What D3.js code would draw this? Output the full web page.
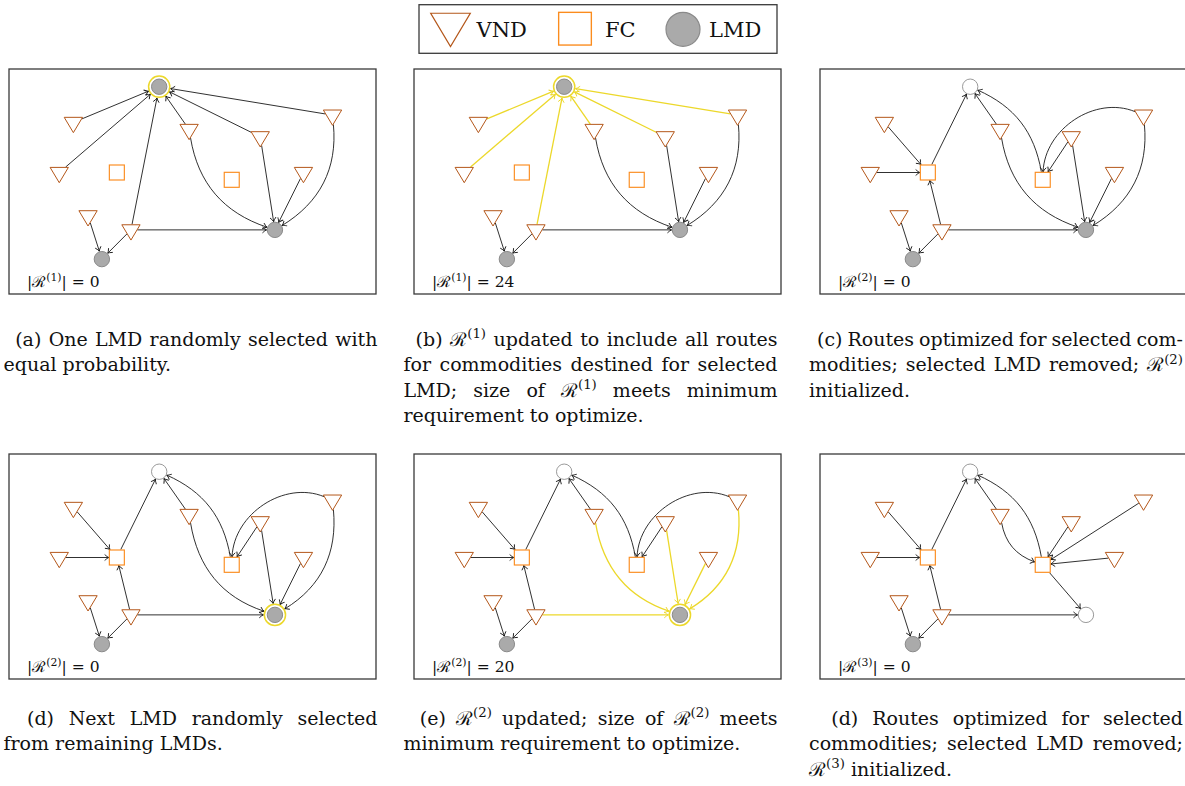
<!DOCTYPE html>
<html><head><meta charset="utf-8">
<script src="https://cdn.jsdelivr.net/npm/d3@7"></script>
<style>body{margin:0;background:#fff}svg{display:block}</style>
</head><body>
<svg id="chart" width="1185" height="786"></svg>
<script>
// ---------------- data ----------------
const nodeIds   = ["L0","V1","V2","F1","V3","V4","L1","V5","V6","V7","F2","V8","L2"];
const nodeTypes = ["LMD","VND","VND","FC","VND","VND","LMD","VND","VND","VND","FC","VND","LMD"];
const nodeX     = [5.32,2.28,1.78,3.82,2.80,4.32,3.29,6.38,8.90,11.46,7.89,10.43,9.42];
const nodeY     = [0.63,1.90,3.68,3.68,5.22,5.72,6.76,2.15,2.41,1.64,3.94,3.68,5.72];

// [from, to, bend(deg)]
const edgesStage1 = [
  ["V1","L0",0],["V2","L0",0],["V4","L0",0],["V5","L0",0],["V6","L0",0],["V7","L0",0],
  ["V5","L2",31],["V6","L2",0],["V8","L2",0],["V7","L2",-32],["V4","L2",0],
  ["V3","L1",0],["V4","L1",0]
];
const edgesStage2 = [
  ["V1","F1",0],["V2","F1",0],["V4","F1",0],["F1","L0",0],
  ["V3","L1",0],["V4","L1",0],["V4","L2",0],
  ["V5","L0",0],["V5","L2",31],["F2","L0",28],["V7","F2",55],["V6","F2",0],
  ["V6","L2",0],["V8","L2",0],["V7","L2",-32]
];
const edgesStage3 = [
  ["V1","F1",0],["V2","F1",0],["V4","F1",0],["F1","L0",0],
  ["V3","L1",0],["V4","L1",0],["V4","L2",0],
  ["V5","L0",0],["V5","F2",30],["F2","L0",28],["V6","F2",0],["V7","F2",0],["V8","F2",0],["F2","L2",0]
];

const panelEdgeSets   = [edgesStage1, edgesStage1, edgesStage2, edgesStage2, edgesStage2, edgesStage3];
const panelHighlight  = [[], ["V1>L0","V2>L0","V4>L0","V5>L0","V6>L0","V7>L0"], [], [],
                         ["V4>L2","V5>L2","V6>L2","V8>L2","V7>L2"], []];
const panelSelected   = ["L0","L0",null,"L2","L2",null];
const panelRemoved    = [[],[],["L0"],["L0"],["L0"],["L0","L2"]];
const panelRound      = ["1","1","2","2","2","3"];
const panelRouteCount = [0,24,0,0,20,0];

const captions = [
  ["(a) One LMD randomly selected with", "equal probability."],
  ["(b) ℛ^{(1)} updated to include all routes", "for commodities destined for selected",
   "LMD; size of ℛ^{(1)} meets minimum", "requirement to optimize."],
  ["(c) Routes optimized for selected com-", "modities; selected LMD removed; ℛ^{(2)}", "initialized."],
  ["(d) Next LMD randomly selected", "from remaining LMDs."],
  ["(e) ℛ^{(2)} updated; size of ℛ^{(2)} meets", "minimum requirement to optimize."],
  ["(d) Routes optimized for selected", "commodities; selected LMD removed;", "ℛ^{(3)} initialized."]
];
const legendLabels = ["VND","FC","LMD"];
const legendTypes  = ["VND","FC","LMD"];

// ---------------- style ----------------
const C_VND = "#b4571a", C_FC = "#fb8c1e", C_LMD = "#aaaaaa", C_LMDs = "#8a8a8a";
const C_YEL = "#ecd82a", C_EDGE = "#1a1a1a";
const FONT = "'DejaVu Serif', serif";

const svg = d3.select("#chart");
const defs = svg.append("defs");
function marker(id, color){
  defs.append("marker").attr("id", id).attr("viewBox","-6 -5 8 10")
    .attr("refX",0).attr("refY",0).attr("markerWidth",8).attr("markerHeight",10)
    .attr("markerUnits","userSpaceOnUse").attr("orient","auto")
    .append("path").attr("d","M-4.2,-3 Q-1.6,-0.5 0,0 Q-1.6,0.5 -4.2,3")
    .attr("fill","none").attr("stroke",color).attr("stroke-width",0.9);
}
marker("arBlack", C_EDGE); marker("arYel", C_YEL);

// ---------------- geometry ----------------
const TW = 18.3, TH = 15.3, SQ = 15, CR = 7.7, RING = 10.6;
function triPts(cx, cy, w, h){ return [[cx-w/2, cy-h/3],[cx+w/2, cy-h/3],[cx, cy+2*h/3]]; }
function rayPoly(cx, cy, ux, uy, pts){
  let best = Infinity;
  for (let i=0;i<pts.length;i++){
    const a = pts[i], b = pts[(i+1)%pts.length];
    const ex = b[0]-a[0], ey = b[1]-a[1];
    const den = ux*ey - uy*ex;
    if (Math.abs(den) < 1e-9) continue;
    const ax = a[0]-cx, ay = a[1]-cy;
    const t = (ax*ey - ay*ex)/den;
    const s = (ax*uy - ay*ux)/den;
    if (t > 0 && s >= -1e-6 && s <= 1+1e-6) best = Math.min(best, t);
  }
  return best;
}
function border(n, ang, sel){
  const ux = Math.cos(ang), uy = Math.sin(ang);
  let t;
  if (n.type === "LMD") t = sel ? RING + 0.9 : CR + 0.6;
  else if (n.type === "FC") { const h = SQ/2 + 0.5; t = Math.min(h/Math.max(Math.abs(ux),1e-9), h/Math.max(Math.abs(uy),1e-9)); }
  else t = rayPoly(n.x, n.y, ux, uy, triPts(n.x, n.y, TW+1, TH+1));
  return [n.x + t*ux, n.y + t*uy];
}
function edgePath(S, T, bend, selId){
  const ang = Math.atan2(T.y - S.y, T.x - S.x);
  const b = bend*Math.PI/180;
  const out = ang + b, inT = ang - b;
  const p0 = border(S, out, S.id === selId), p3 = border(T, inT + Math.PI, T.id === selId);
  if (bend === 0) return `M${p0[0]},${p0[1]}L${p3[0]},${p3[1]}`;
  const L = 0.3915*Math.hypot(p3[0]-p0[0], p3[1]-p0[1]);
  const c1 = [p0[0]+L*Math.cos(out), p0[1]+L*Math.sin(out)];
  const c2 = [p3[0]-L*Math.cos(inT), p3[1]-L*Math.sin(inT)];
  return `M${p0[0]},${p0[1]}C${c1[0]},${c1[1]} ${c2[0]},${c2[1]} ${p3[0]},${p3[1]}`;
}

function drawShape(g, type, cx, cy, opts){
  const o = Object.assign({w:TW, h:TH, s:SQ, r:CR, sw:1, removed:false, selected:false}, opts||{});
  if (type === "VND"){
    g.append("polygon").attr("points", triPts(cx,cy,o.w,o.h).map(p=>p.join(",")).join(" "))
      .attr("fill","#fff").attr("stroke",C_VND).attr("stroke-width",o.sw).attr("stroke-linejoin","miter");
  } else if (type === "FC"){
    g.append("rect").attr("x",cx-o.s/2).attr("y",cy-o.s/2).attr("width",o.s).attr("height",o.s)
      .attr("fill","#fff").attr("stroke",C_FC).attr("stroke-width",o.sw*1.15);
  } else {
    if (o.selected) g.append("circle").attr("cx",cx).attr("cy",cy).attr("r",RING)
      .attr("fill","#fff").attr("stroke",C_YEL).attr("stroke-width",1.5);
    g.append("circle").attr("cx",cx).attr("cy",cy).attr("r",o.r)
      .attr("fill", o.removed ? "#fff" : C_LMD).attr("stroke", o.removed ? "#9a9a9a" : C_LMDs).attr("stroke-width",o.sw);
  }
}

// rich text: supports ^{...} superscripts
function addRich(text, str, fs){
  const parts = str.split(/(\^\{[^}]*\})/).filter(s => s.length);
  let raised = false;
  parts.forEach(p => {
    if (p.startsWith("^{")){
      text.append("tspan").attr("font-size", fs*0.7).attr("dy", -fs*0.4).text(p.slice(2,-1));
      raised = true;
    } else {
      const t = text.append("tspan").text(p);
      if (raised){ t.attr("dy", fs*0.4); raised = false; }
    }
  });
}

// ---------------- panels ----------------
const PW = 367, PH = 225;
const colX = [9, 414, 820], rowY = [69, 454];

panelEdgeSets.forEach((edges, pi) => {
  const px = colX[pi % 3], py = rowY[Math.floor(pi/3)];
  const xs = d3.scaleLinear().domain([0,13]).range([px, px+PW]);
  const ys = d3.scaleLinear().domain([0,8]).range([py, py+PH]);
  const nodes = {};
  nodeIds.forEach((id,i) => nodes[id] = {id, type:nodeTypes[i], x:xs(nodeX[i]), y:ys(nodeY[i])});
  const g = svg.append("g");
  g.append("rect").attr("x",px).attr("y",py).attr("width",PW).attr("height",PH)
    .attr("fill","#fff").attr("stroke","#3a3a3a").attr("stroke-width",1.3);
  const sel = panelSelected[pi];
  const hl = new Set(panelHighlight[pi]);
  const ordered = edges.filter(e => !hl.has(e[0]+">"+e[1])).concat(edges.filter(e => hl.has(e[0]+">"+e[1])));
  g.selectAll("path.edge").data(ordered).join("path").attr("class","edge")
    .attr("d", e => edgePath(nodes[e[0]], nodes[e[1]], e[2], sel))
    .attr("fill","none")
    .attr("stroke", e => hl.has(e[0]+">"+e[1]) ? C_YEL : C_EDGE)
    .attr("stroke-width", e => hl.has(e[0]+">"+e[1]) ? 1.3 : 0.9)
    .attr("marker-end", e => hl.has(e[0]+">"+e[1]) ? "url(#arYel)" : "url(#arBlack)");
  nodeIds.forEach(id => {
    const n = nodes[id];
    drawShape(g, n.type, n.x, n.y, {selected: id === sel, removed: panelRemoved[pi].includes(id)});
  });
  const lab = g.append("text").attr("x", px+18).attr("y", py+PH-7)
    .attr("font-family", FONT).attr("font-size", 15.5).attr("fill","#111");
  addRich(lab, `|ℛ^{(${panelRound[pi]})}| = ${panelRouteCount[pi]}`, 15.5);
});

// ---------------- legend ----------------
const lg = svg.append("g");
lg.append("rect").attr("x",419).attr("y",4.7).attr("width",358).attr("height",48.6)
  .attr("fill","#fff").attr("stroke","#3a3a3a").attr("stroke-width",1.3);
const legSym = d3.scalePoint().domain(legendLabels).range([450.5, 683]);
const legSymY = {VND: 24.4, FC: 28.7, LMD: 29.3};
const legTextX = {VND: 476.5, FC: 605, LMD: 709};
legendLabels.forEach((lab, i) => {
  const t = legendTypes[i];
  const cx = t === "FC" ? 575 : legSym(lab);
  drawShape(lg, t, cx, legSymY[t], {w:39.6, h:33.4, s:32.7, r:17, sw:1.2});
  lg.append("text").attr("x", legTextX[lab]).attr("y", 36.5).attr("font-family",FONT)
    .attr("font-size",21).attr("fill","#111").text(lab);
});

// ---------------- captions ----------------
const CFS = 19, CLH = 25.3, CW = 374;
const capX = [3.5, 403.5, 809], capY = [346, 725];
captions.forEach((lines, ci) => {
  const x0 = capX[ci % 3], y0 = capY[Math.floor(ci/3)];
  const g = svg.append("g").attr("font-family",FONT).attr("font-size",CFS).attr("fill","#111");
  lines.forEach((line, li) => {
    const y = y0 + li*CLH;
    const words = line.split(" ");
    const els = words.map(w => { const t = g.append("text").attr("y", y); addRich(t, w, CFS); return t; });
    const widths = els.map(e => e.node().getComputedTextLength());
    const total = d3.sum(widths);
    const justify = li < lines.length - 1;
    const leadW = li === 0 ? 1.6 : 0;
    let gap = justify ? (CW - total)/(words.length - 1 + leadW) : CFS*0.318;
    let x = x0 + leadW*gap;
    els.forEach((e,i) => { e.attr("x", x); x += widths[i] + gap; });
  });
});
</script>
</body></html>
